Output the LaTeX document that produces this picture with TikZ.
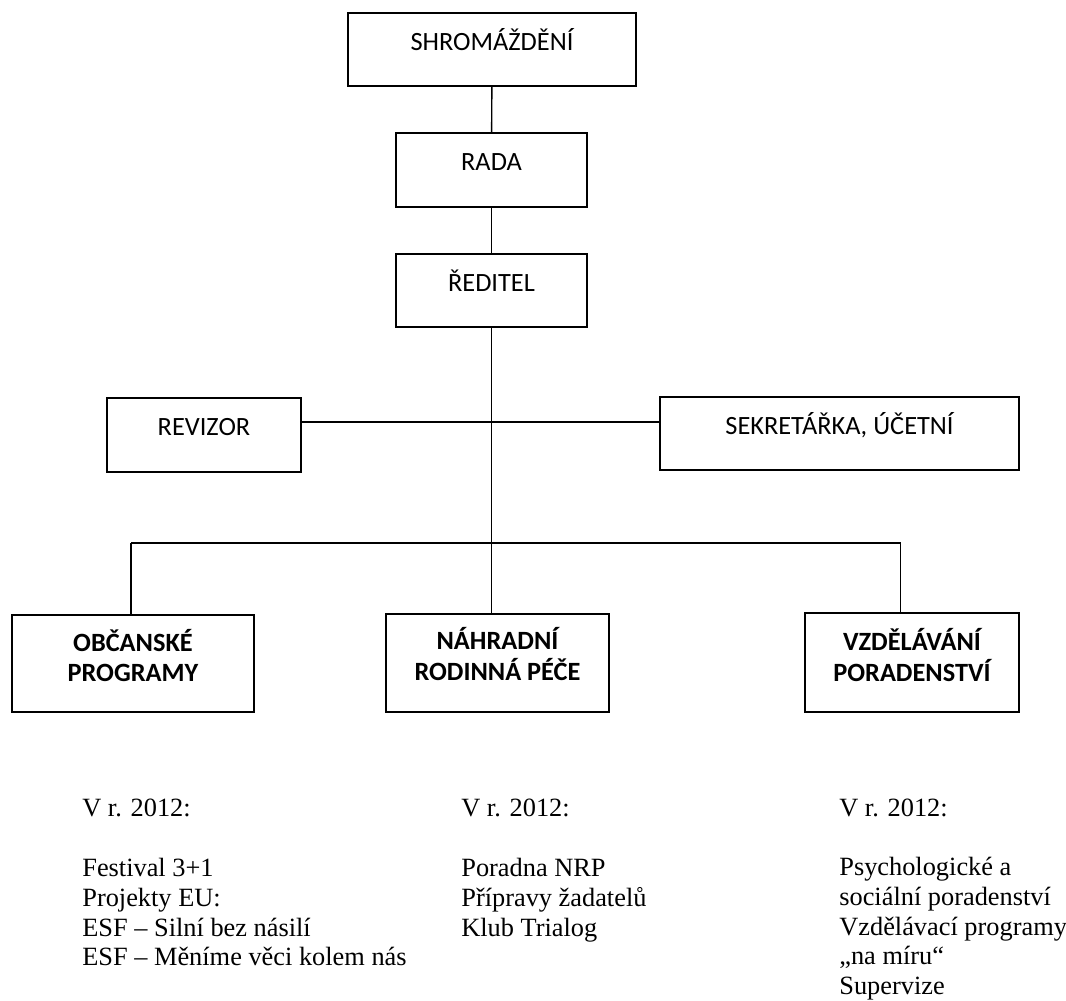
\documentclass[tikz,border=0pt]{standalone}
\usepackage{fontspec}
\setmainfont{Liberation Serif}
\newfontfamily\boxfont{Carlito}
\begin{document}
\begin{tikzpicture}[x=0.02cm,y=-0.02cm]
		\begin{scope}[scale=1]
		
		\tikzstyle{mybox}=[rectangle,
		draw=black,
		line width=1pt,
		inner sep=0pt,
		text height=0.34cm,
		text depth=0.32cm,
		font=\boxfont\fontsize{15}{18}\selectfont
		]
		\tikzstyle{myboldbox}=[rectangle,
		draw=black,
		line width=1pt,
		inner sep=0pt,
		align=center,
		font=\boxfont\bfseries\fontsize{15}{17.6}\selectfont
		]
		\tikzstyle{myline}=[line width=0.8pt]
		\tikzstyle{mytext}=[anchor=north west,
		inner sep=0pt,
		align=left,
		font=\fontsize{15}{16.9}\selectfont
		]
		
		\useasboundingbox (0,0) rectangle (1066,1001);
		
		\coordinate (pshrom) at (492, 49.5);
		\coordinate (prada) at (491.5, 170);
		\coordinate (preditel) at (491.5, 290.5);
		
		\coordinate (previzor) at (204, 435);
		\coordinate (psekret) at (839.5, 433.5);
		
		\coordinate (pobc) at (133, 663.5);
		\coordinate (pnrp) at (497.5, 663);
		\coordinate (pvzd) at (912, 662.5);
		
		\coordinate (hline) at (0, 422);
		\coordinate (busL) at (131, 543);
		\coordinate (busR) at (900.6, 543);
		
		\node[mybox, minimum width=5.76cm, minimum height=1.46cm] (shrom) at (pshrom) {SHROMÁŽDĚNÍ};
		\node[mybox, minimum width=3.82cm, minimum height=1.48cm] (rada) at (prada) {RADA};
		\node[mybox, minimum width=3.82cm, minimum height=1.46cm] (reditel) at (preditel) {ŘEDITEL};
		\node[mybox, minimum width=3.88cm, minimum height=1.48cm] (revizor) at (previzor) {REVIZOR};
		\node[mybox, minimum width=7.18cm, minimum height=1.46cm] (sekret) at (psekret) {SEKRETÁŘKA, ÚČETNÍ};
		
		% empty last line lifts the two text lines a little
		\node[myboldbox, minimum width=4.84cm, minimum height=1.94cm] (obc) at (pobc) {OBČANSKÉ\\PROGRAMY\\[-8.4pt]\mbox{}};
		\node[myboldbox, minimum width=4.46cm, minimum height=1.96cm] (nrp) at (pnrp) {NÁHRADNÍ\\RODINNÁ PÉČE\\[-7.4pt]\mbox{}};
		\node[myboldbox, minimum width=4.28cm, minimum height=1.98cm] (vzd) at (pvzd) {VZDĚLÁVÁNÍ\\PORADENSTVÍ\\[-9pt]\mbox{}};
		
		\draw[myline] (shrom) -- (rada);
		\draw[myline] (rada) -- (reditel);
		\draw[myline] (reditel.south) -- (reditel.south |- nrp.north);
		\draw[myline] (revizor.east |- hline) -- (sekret.west |- hline);
		\draw[myline] (busL) -- (busR);
		\draw[myline] (busL) -- (busL |- obc.north);
		\draw[myline] (busR) -- (busR |- vzd.north);
		
		\node[mytext] (rok1) at (82, 799) {V r. 2012:};
		\node[mytext] (rok2) at (461, 799) {V r. 2012:};
		\node[mytext] (rok3) at (839, 799) {V r. 2012:};
		
		\node[mytext] (akce1) at (82, 858) {Festival 3+1\\Projekty EU:\\ESF – Silní bez násilí\\ESF – Měníme věci kolem nás};
		\node[mytext] (akce2) at (461, 858) {Poradna NRP\\Přípravy žadatelů\\Klub Trialog};
		\node[mytext] (akce3) at (839, 857) {Psychologické a\\sociální poradenství\\Vzdělávací programy\\„na míru“\\Supervize};
		
		\end{scope}
\end{tikzpicture}
\end{document}
